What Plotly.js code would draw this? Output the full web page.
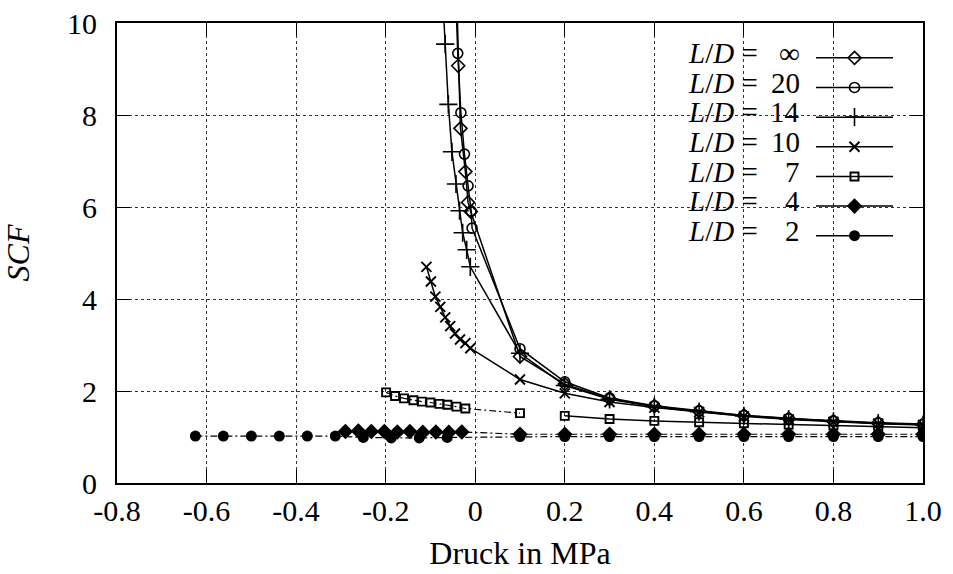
<!DOCTYPE html>
<html><head><meta charset="utf-8">
<script src="https://cdn.plot.ly/plotly-3.0.1.min.js"></script>
<style>html,body{margin:0;padding:0;background:#fff}#chart{width:953px;height:574px}</style>
</head><body><div id="chart"></div>
<script>
// ---- tick labels ----
const xTickVals = [-0.8, -0.6, -0.4, -0.2, 0, 0.2, 0.4, 0.6, 0.8, 1.0];
const xTickText = ['-0.8', '-0.6', '-0.4', '-0.2', '0', '0.2', '0.4', '0.6', '0.8', '1.0'];
const yTickVals = [0, 2, 4, 6, 8, 10];
const yTickText = ['0', '2', '4', '6', '8', '10'];

// ---- series labels (L/D values) ----
const seriesLabels = ['∞', '20', '14', '10', '7', '4', '2'];

// ---- L/D = infinity ----
const xInf = [-0.044, -0.038, -0.033, -0.022, -0.016, -0.010, 0.1, 0.2, 0.3, 0.4, 0.5, 0.6, 0.7, 0.8, 0.9, 1.0];
const yInf = [11.5, 9.07, 7.71, 6.77, 6.10, 5.90, 2.75, 2.15, 1.83, 1.67, 1.56, 1.47, 1.40, 1.34, 1.30, 1.27];

// ---- L/D = 20 ----
const x20 = [-0.045, -0.039, -0.032, -0.024, -0.016, -0.009, -0.007, 0.1, 0.2, 0.3, 0.4, 0.5, 0.6, 0.7, 0.8, 0.9, 1.0];
const y20 = [11.0, 9.34, 8.05, 7.15, 6.46, 5.91, 5.54, 2.92, 2.20, 1.85, 1.68, 1.57, 1.47, 1.40, 1.35, 1.31, 1.28];

// ---- L/D = 14 ----
const x14 = [-0.075, -0.067, -0.060, -0.052, -0.043, -0.035, -0.028, -0.019, -0.011, 0.1, 0.2, 0.3, 0.4, 0.5, 0.6, 0.7, 0.8, 0.9, 1.0];
const y14 = [11.0, 9.54, 8.23, 7.20, 6.50, 5.92, 5.44, 5.07, 4.70, 2.82, 2.12, 1.82, 1.66, 1.55, 1.46, 1.39, 1.34, 1.30, 1.27];

// ---- L/D = 10 ----
const x10 = [-0.109, -0.099, -0.089, -0.078, -0.067, -0.056, -0.045, -0.034, -0.022, -0.011, 0.1, 0.2, 0.3, 0.4, 0.5, 0.6, 0.7, 0.8, 0.9, 1.0];
const y10 = [4.70, 4.38, 4.05, 3.83, 3.60, 3.41, 3.25, 3.12, 3.04, 2.93, 2.25, 1.95, 1.76, 1.64, 1.54, 1.45, 1.38, 1.33, 1.29, 1.26];

// ---- L/D = 7 (negative pressure part, dash-dot) ----
const x7a = [-0.199, -0.179, -0.159, -0.138, -0.119, -0.100, -0.080, -0.062, -0.042, -0.022, 0.1];
const y7a = [1.97, 1.89, 1.84, 1.80, 1.77, 1.75, 1.72, 1.70, 1.66, 1.62, 1.52];
// ---- L/D = 7 (positive pressure part, solid) ----
const x7b = [0.2, 0.3, 0.4, 0.5, 0.6, 0.7, 0.8, 0.9, 1.0];
const y7b = [1.46, 1.39, 1.35, 1.32, 1.30, 1.27, 1.25, 1.22, 1.20];

// ---- L/D = 4 ----
const x4 = [-0.290, -0.261, -0.232, -0.203, -0.174, -0.146, -0.117, -0.088, -0.059, -0.030, 0.1, 0.2, 0.3, 0.4, 0.5, 0.6, 0.7, 0.8, 0.9, 1.0];
const y4 = [1.12, 1.13, 1.12, 1.12, 1.11, 1.12, 1.10, 1.11, 1.10, 1.11, 1.06, 1.06, 1.06, 1.06, 1.06, 1.06, 1.06, 1.06, 1.06, 1.06];

// ---- L/D = 2 ----
const x2 = [-0.625, -0.5625, -0.5, -0.4375, -0.375, -0.3125, -0.25, -0.1875, -0.125, -0.0625, 0.1, 0.2, 0.3, 0.4, 0.5, 0.6, 0.7, 0.8, 0.9, 1.0];
const y2 = [1.02, 1.02, 1.02, 1.02, 1.02, 1.02, 0.99, 0.98, 0.98, 0.99, 1.01, 1.01, 1.01, 1.01, 1.01, 1.01, 1.01, 1.01, 1.01, 1.01];

const K = '#000';
const SERIF = 'Liberation Serif';
const markers = [
  {symbol: 'diamond-open', size: 10, color: K, line: {width: 1.6, color: K}},
  {symbol: 'circle-open', size: 10, color: K, line: {width: 1.6, color: K}},
  {symbol: 'cross-thin-open', size: 13, color: K, line: {width: 1.6, color: K}},
  {symbol: 'x-thin-open', size: 10, color: K, line: {width: 1.9, color: K}},
  {symbol: 'square-open', size: 8, color: K, line: {width: 1.9, color: K}},
  {symbol: 'diamond', size: 12, color: K, line: {width: 0, color: K}},
  {symbol: 'circle', size: 11, color: K, line: {width: 0, color: K}}
];
const solid = {color: K, width: 1.5};
const dashdot = {color: K, width: 1.2, dash: '7px,3px,2px,3px'};

function tr(x, y, i, line) {
  return {x: x, y: y, type: 'scatter', mode: 'lines+markers', showlegend: false,
          line: line, marker: markers[i], cliponaxis: true, hoverinfo: 'x+y'};
}
const data = [
  tr(x2, y2, 6, dashdot),
  tr(x4, y4, 5, dashdot),
  tr(x7a, y7a, 4, dashdot),
  tr(x7b, y7b, 4, solid),
  tr(x10, y10, 3, solid),
  tr(x14, y14, 2, solid),
  tr(x20, y20, 1, solid),
  tr(xInf, yInf, 0, solid)
];
// legend entries (solid sample lines, as in the reference key)
seriesLabels.forEach(function (lab, i) {
  data.push({x: [null], y: [null], type: 'scatter', mode: 'lines+markers', name: '',
             showlegend: true, line: solid, marker: markers[i], hoverinfo: 'skip'});
});

// plot area in pixels: left 117, right 923, top 23, bottom 483
const rowTop = 53, rowGap = 29.67;
const annotations = [];
seriesLabels.forEach(function (lab, i) {
  const yp = (483 - (rowTop + i * rowGap)) / 460;
  annotations.push({xref: 'paper', yref: 'paper', x: (760 - 117) / 806, y: yp,
    xanchor: 'right', yanchor: 'middle', showarrow: false,
    text: '<i>L</i>/<i>D</i> =', font: {family: SERIF, size: 29, color: K}});
  annotations.push({xref: 'paper', yref: 'paper', x: (802 - 117) / 806, y: yp,
    xanchor: 'right', yanchor: 'middle', showarrow: false,
    text: lab, font: {family: SERIF, size: 29, color: K}});
});

const axisCommon = {
  showline: true, linecolor: K, linewidth: 1.8, mirror: 'allticks',
  ticks: 'inside', ticklen: 13, tickwidth: 1.4, tickcolor: K,
  showgrid: true, gridcolor: '#333', gridwidth: 1, griddash: 'dot',
  zeroline: false, tickmode: 'array',
  tickfont: {family: SERIF, size: 30, color: K}
};

const layout = {
  width: 953, height: 574,
  margin: {l: 117, r: 30, t: 23, b: 91, pad: 0},
  paper_bgcolor: '#fff', plot_bgcolor: '#fff',
  font: {family: SERIF, color: K},
  xaxis: Object.assign({}, axisCommon, {
    range: [-0.8, 1.0], tickvals: xTickVals, ticktext: xTickText, ticklabelstandoff: 0,
    title: {text: 'Druck in MPa', font: {family: SERIF, size: 32, color: K}, standoff: 16}
  }),
  yaxis: Object.assign({}, axisCommon, {
    range: [0, 10], tickvals: yTickVals, ticktext: yTickText, ticklabelstandoff: 12,
    title: {text: '<i>SCF</i>', font: {family: SERIF, size: 32, color: K}, standoff: 30}
  }),
  showlegend: true,
  legend: {x: (811 - 117) / 806, xanchor: 'left', y: (483 - 38) / 460, yanchor: 'top',
           bgcolor: 'rgba(0,0,0,0)', borderwidth: 0, itemwidth: 77,
           font: {family: SERIF, size: 20.5, color: K}, traceorder: 'normal'},
  shapes: [{type: 'rect', xref: 'paper', yref: 'paper', layer: 'between',
            x0: (686 - 117) / 806, x1: (919 - 117) / 806, y0: (483 - 245) / 460, y1: (483 - 30) / 460,
            fillcolor: '#fff', line: {width: 0}}],
  annotations: annotations
};

Plotly.newPlot('chart', data, layout, {displayModeBar: false});
</script>
</body></html>
